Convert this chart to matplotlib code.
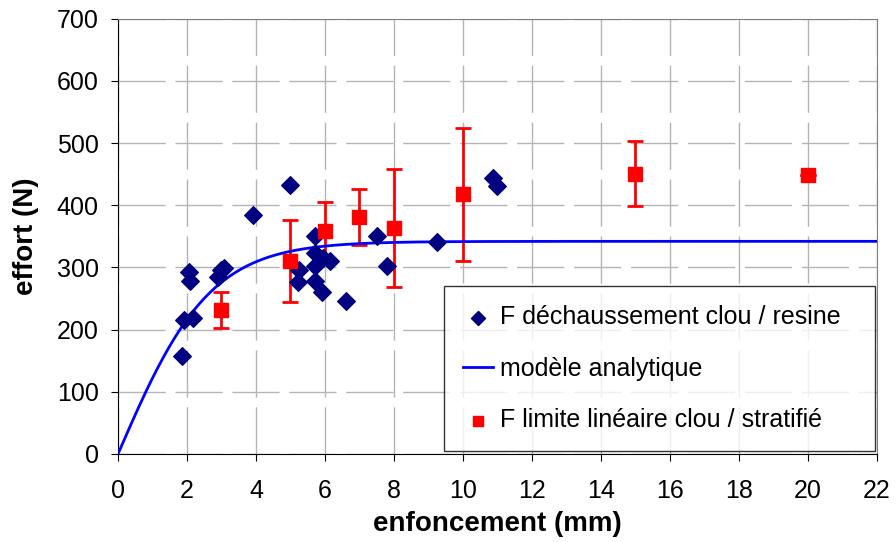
import numpy as np
import matplotlib
matplotlib.use("Agg")
import matplotlib.pyplot as plt

plt.rcParams['font.family'] = ['Liberation Sans', 'DejaVu Sans']

# essais de déchaussement clou / résine
x_dech = [1.85, 1.91, 2.05, 2.09, 2.18, 2.91, 3.0, 3.08, 3.9, 5.0,
          5.23, 5.25, 5.71, 5.71, 5.71, 5.71, 5.91, 5.95, 6.16, 6.61,
          7.5, 7.8, 9.26, 10.88, 11.0]
y_dech = [158, 216, 293, 279, 218, 284, 296, 299, 384, 433,
          277, 296, 351, 323, 303, 279, 260, 315, 310, 246,
          351, 303, 341, 444, 431]

# limite linéaire clou / stratifié
x_lim = [3, 5, 6, 7, 8, 10, 15, 20]
y_lim = [232, 311, 358, 381, 363, 418, 451, 449]
err_lim = [29, 66, 47, 45, 95, 107, 52, 0]

# modèle analytique (F = Fmax * tanh(x / l0))
F_max = 342
l0 = 2.68
x_mod = np.linspace(0, 22, 400)
y_mod = F_max * np.tanh(x_mod / l0)

fig = plt.figure(figsize=(8.96, 5.42), dpi=100)
ax = fig.add_axes([0.1317, 0.1624, 0.847, 0.803])

ax.errorbar(x_lim, y_lim, yerr=err_lim, fmt='none', ecolor='#ff0000',
            elinewidth=2, capsize=6, capthick=2, zorder=3)
ax.plot(x_mod, y_mod, color='#0000ff', lw=2, zorder=4,
        label='modèle analytique')
ax.scatter(x_dech, y_dech, marker='D', s=80, color='#000080', zorder=5,
           label='F déchaussement clou / resine')
ax.scatter(x_lim, y_lim, marker='s', s=95, color='#ff0000', zorder=6,
           label='F limite linéaire clou / stratifié')

ax.set_xlim(0, 22)
ax.set_ylim(0, 700)
ax.set_xticks(range(0, 23, 2))
ax.set_yticks(range(0, 701, 100))
ax.tick_params(direction='out', length=5, labelsize=18, color='black')
ax.tick_params(axis='x', pad=13)
ax.tick_params(axis='y', pad=9)
ax.grid(True, color='#b4b4b4', lw=1, linestyle=(0, (34, 7)))
ax.set_axisbelow(True)

for s in ['top', 'right']:
    ax.spines[s].set_color('#808080')
for s in ['left', 'bottom']:
    ax.spines[s].set_color('black')

ax.set_xlabel('enfoncement (mm)', fontsize=20, fontweight='bold', labelpad=6)
ax.set_ylabel('effort (N)', fontsize=20, fontweight='bold', labelpad=13)

h, l = ax.get_legend_handles_labels()
order = [1, 0, 2]
leg = ax.legend([h[i] for i in order], [l[i] for i in order],
                loc='lower right', bbox_to_anchor=(0.4295, 0.007, 0.568, 0.36),
                mode='expand', borderaxespad=0, fontsize=18, frameon=True,
                fancybox=False, edgecolor='black', labelspacing=1.1,
                borderpad=0.75, handlelength=1.2, handletextpad=0.3,
                markerscale=0.8)
leg.get_frame().set_linewidth(1)

fig.savefig('out.png', dpi=100)
